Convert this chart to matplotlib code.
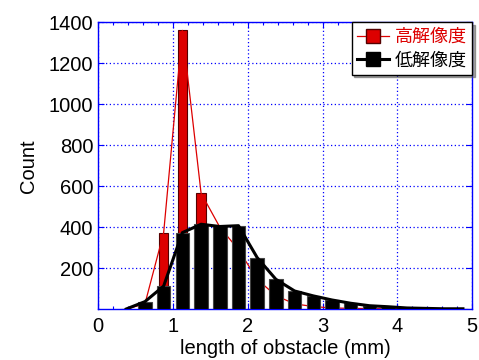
import matplotlib
matplotlib.use("Agg")
import matplotlib.pyplot as plt
from matplotlib.ticker import MultipleLocator

plt.rcParams['font.family'] = ['Liberation Sans', 'Noto Sans CJK JP', 'DejaVu Sans']

bin_centers = [0.375, 0.625, 0.875, 1.125, 1.375, 1.625, 1.875, 2.125, 2.375, 2.625,
               2.875, 3.125, 3.375, 3.625, 3.875, 4.125, 4.375, 4.625, 4.875]
high_res = [0, 25, 373, 1361, 566, 400, 290, 145, 65, 25,
            12, 5, 3, 2, 1, 1, 0, 0, 0]
low_res = [0, 36, 112, 373, 414, 403, 407, 251, 145, 88,
           64, 44, 28, 16, 11, 5, 3, 1, 1]

labels = ['高解像度', '低解像度']
xticks = [0, 1, 2, 3, 4, 5]
yticks = [200, 400, 600, 800, 1000, 1200, 1400]

red = '#dd0000'
blue = '#0000ff'

fig = plt.figure(figsize=(4.79, 3.6), dpi=100)
ax = fig.add_axes([0.205, 0.1417, 0.781, 0.796])

ax.bar(bin_centers, high_res, width=0.127, color=red, edgecolor='#550000',
       linewidth=0.8, zorder=2)
ax.plot(bin_centers, high_res, color=red, linewidth=0.9, zorder=2.5)
ax.bar(bin_centers, low_res, width=0.18, color='black', edgecolor='#444444',
       linewidth=0.8, zorder=3)
ax.plot(bin_centers, low_res, color='black', linewidth=2.2, zorder=4,
        solid_joinstyle='round')

ax.set_xlim(0, 5)
ax.set_ylim(0, 1400)
ax.set_xticks(xticks)
ax.set_yticks(yticks)
ax.xaxis.set_minor_locator(MultipleLocator(0.2))
ax.tick_params(axis='both', which='both', direction='in', colors=blue,
               labelcolor='black', labelsize=14.5, top=True, right=True)
ax.tick_params(axis='both', which='major', length=4, width=0.8)
ax.tick_params(axis='x', which='minor', length=2.5, width=0.8)
ax.tick_params(axis='x', which='major', pad=6)
for s in ax.spines.values():
    s.set_color(blue)
    s.set_linewidth(1.0)
ax.grid(True, which='major', color=blue, linestyle=(0, (1, 2)), linewidth=0.9, zorder=0)
ax.set_axisbelow(True)

ax.set_xlabel('length of obstacle (mm)', fontsize=14.5, labelpad=2)
ax.set_ylabel('Count', fontsize=14.5, labelpad=8)

h1, = ax.plot([], [], color=red, linewidth=0.9, marker='s', markersize=10,
              markerfacecolor=red, markeredgecolor='#550000')
h2, = ax.plot([], [], color='black', linewidth=2.2, marker='s', markersize=10,
              markerfacecolor='black', markeredgecolor='black')
leg = ax.legend([h1, h2], labels, loc='upper right', fontsize=13,
                frameon=True, fancybox=False, shadow=True, edgecolor='black',
                borderaxespad=0.0, handlelength=1.8, handletextpad=0.3,
                labelspacing=0.3, borderpad=0.3,
                prop={'family': ['Noto Sans CJK JP'], 'size': 13})
leg.get_frame().set_linewidth(1.0)
leg.get_texts()[0].set_color(red)
leg.get_texts()[1].set_color('black')

fig.savefig('out.png', dpi=100)
